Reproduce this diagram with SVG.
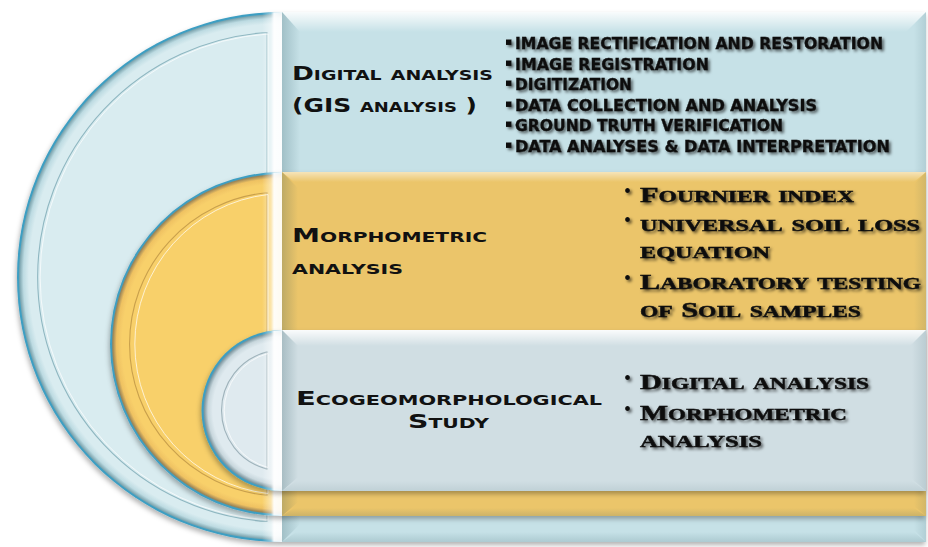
<svg xmlns="http://www.w3.org/2000/svg" width="928" height="547" viewBox="0 0 928 547">
  <style>
    .lbl{font-family:"DejaVu Sans","Liberation Sans",sans-serif;font-weight:bold;font-variant:small-caps;font-size:19.5px;fill:#111}
    .sm{font-family:"Liberation Sans Narrow","DejaVu Sans Condensed","Liberation Sans",sans-serif;font-weight:bold;font-size:16.5px;fill:#111;stroke:#111;stroke-width:0.35}
    .sq{font-family:"DejaVu Sans",sans-serif;font-size:11px;fill:#111}
    .ser{font-family:"Liberation Serif","DejaVu Serif",serif;font-weight:bold;font-variant:small-caps;font-size:24.5px;fill:#111;stroke:#111;stroke-width:0.5}
    .cap{font-size:22px}
    .dot{font-family:"Liberation Serif","DejaVu Serif",serif;font-size:20px;fill:#111}
    .groove-d{fill:none;stroke-width:1.1}
    .groove-l{fill:none;stroke:#ffffff;stroke-opacity:0.7;stroke-width:1}
  </style>
  <defs>
    <!-- rims of the three half-discs: fill colour fading into a dark bevel and a thin blue outline -->
    <radialGradient id="rimBlue" gradientUnits="userSpaceOnUse" cx="282" cy="277" r="265">
      <stop offset="0" stop-color="#d9ecf0"/>
      <stop offset="0.955" stop-color="#d9ecf0"/>
      <stop offset="0.976" stop-color="#bddbe2"/>
      <stop offset="0.99" stop-color="#7ea6b0"/>
      <stop offset="0.994" stop-color="#3d9ec2"/>
      <stop offset="1" stop-color="#3d9ec2"/>
    </radialGradient>
    <radialGradient id="rimYellow" gradientUnits="userSpaceOnUse" cx="282" cy="344" r="172">
      <stop offset="0" stop-color="#f8d06b"/>
      <stop offset="0.93" stop-color="#f8d06b"/>
      <stop offset="0.962" stop-color="#efc262"/>
      <stop offset="0.984" stop-color="#9c8557"/>
      <stop offset="0.991" stop-color="#3d9ec2"/>
      <stop offset="1" stop-color="#3d9ec2"/>
    </radialGradient>
    <radialGradient id="rimGrey" gradientUnits="userSpaceOnUse" cx="282" cy="410.5" r="80.5">
      <stop offset="0" stop-color="#dfeaef"/>
      <stop offset="0.86" stop-color="#dfeaef"/>
      <stop offset="0.92" stop-color="#c8d7dd"/>
      <stop offset="0.965" stop-color="#7f98a1"/>
      <stop offset="0.98" stop-color="#3d9ec2"/>
      <stop offset="1" stop-color="#3d9ec2"/>
    </radialGradient>
    <!-- bevel faces -->
    <linearGradient id="hiTop" x1="0" y1="0" x2="0" y2="1">
      <stop offset="0" stop-color="#ffffff" stop-opacity="0.9"/>
      <stop offset="1" stop-color="#ffffff" stop-opacity="0"/>
    </linearGradient>
    <linearGradient id="shLeft" x1="0" y1="0" x2="1" y2="0">
      <stop offset="0" stop-color="#1d4a55" stop-opacity="0.22"/>
      <stop offset="1" stop-color="#1d4a55" stop-opacity="0"/>
    </linearGradient>
    <linearGradient id="shRight" x1="0" y1="0" x2="1" y2="0">
      <stop offset="0" stop-color="#1d4a55" stop-opacity="0"/>
      <stop offset="1" stop-color="#1d4a55" stop-opacity="0.12"/>
    </linearGradient>
    <linearGradient id="shBottom" x1="0" y1="0" x2="0" y2="1">
      <stop offset="0" stop-color="#1d4a55" stop-opacity="0"/>
      <stop offset="1" stop-color="#1d4a55" stop-opacity="0.15"/>
    </linearGradient>
    <linearGradient id="edgeHi" x1="0" y1="0" x2="1" y2="0">
      <stop offset="0" stop-color="#ffffff" stop-opacity="0"/>
      <stop offset="0.45" stop-color="#ffffff" stop-opacity="0.45"/>
      <stop offset="0.6" stop-color="#ffffff" stop-opacity="0.95"/>
      <stop offset="1" stop-color="#ffffff" stop-opacity="0.9"/>
    </linearGradient>
    <clipPath id="cBlue"><path d="M282 12 A265 265 0 0 0 282 542 Z"/></clipPath>
    <clipPath id="cYellow"><path d="M282 172 A172 172 0 0 0 282 516 Z"/></clipPath>
    <clipPath id="cGrey"><path d="M282 330 A80.5 80.5 0 0 0 282 491 Z"/></clipPath>
    <filter id="drop" x="-5%" y="-5%" width="110%" height="115%">
      <feGaussianBlur in="SourceAlpha" stdDeviation="2.5"/>
      <feOffset dx="-1" dy="3" result="b"/>
      <feFlood flood-color="#000" flood-opacity="0.3"/>
      <feComposite in2="b" operator="in"/>
      <feMerge><feMergeNode/><feMergeNode in="SourceGraphic"/></feMerge>
    </filter>
    <filter id="ts" x="-5%" y="-30%" width="110%" height="170%">
      <feGaussianBlur in="SourceAlpha" stdDeviation="1.7"/>
      <feOffset dx="1.5" dy="2" result="b"/>
      <feFlood flood-color="#000" flood-opacity="0.6"/>
      <feComposite in2="b" operator="in"/>
      <feMerge><feMergeNode/><feMergeNode in="SourceGraphic"/></feMerge>
    </filter>
  </defs>

  <rect width="928" height="547" fill="#ffffff"/>

  <!-- outer level: digital analysis -->
  <g id="node-digital">
    <g filter="url(#drop)">
      <rect x="282" y="12" width="644" height="530" fill="#c6e1e7"/>
      <path d="M282 12 A265 265 0 0 0 282 542 Z" fill="url(#rimBlue)"/>
    </g>
    <polygon points="282,12 926,12 906,32 300,32" fill="url(#hiTop)"/>
    <polygon points="282,12 300,32 300,524 282,542" fill="url(#shLeft)"/>
    <polygon points="926,12 926,542 914,530 914,24" fill="url(#shRight)"/>
    <polygon points="282,542 926,542 914,532 296,532" fill="url(#shBottom)"/>
    <path class="groove-d" stroke="#8fb7c1" d="M267 32.5 A245 245 0 0 0 267 521.5 Z"/>
    <path class="groove-l" d="M268 34 A243.5 243.5 0 0 0 268 520 Z"/>
    <rect x="262" y="12" width="20" height="530" fill="url(#edgeHi)" clip-path="url(#cBlue)"/>
    <text class="lbl" x="292" y="80" textLength="201" lengthAdjust="spacingAndGlyphs">Digital analysis</text>
    <text class="lbl" x="292" y="112" textLength="185" lengthAdjust="spacingAndGlyphs">(GIS analysis )</text>
    <g filter="url(#ts)">
      <text class="sq" x="505" y="45">▪</text>
      <text class="sq" x="505" y="65.5">▪</text>
      <text class="sq" x="505" y="86">▪</text>
      <text class="sq" x="505" y="106.5">▪</text>
      <text class="sq" x="505" y="127">▪</text>
      <text class="sq" x="505" y="147.5">▪</text>
      <text class="sm" x="515" y="49" textLength="368" lengthAdjust="spacingAndGlyphs">IMAGE RECTIFICATION AND RESTORATION</text>
      <text class="sm" x="515" y="69.5" textLength="194" lengthAdjust="spacingAndGlyphs">IMAGE REGISTRATION</text>
      <text class="sm" x="515" y="90" textLength="117" lengthAdjust="spacingAndGlyphs">DIGITIZATION</text>
      <text class="sm" x="515" y="110.5" textLength="302" lengthAdjust="spacingAndGlyphs">DATA COLLECTION AND ANALYSIS</text>
      <text class="sm" x="515" y="131" textLength="268" lengthAdjust="spacingAndGlyphs">GROUND TRUTH VERIFICATION</text>
      <text class="sm" x="515" y="151.5" textLength="375" lengthAdjust="spacingAndGlyphs">DATA ANALYSES &amp; DATA INTERPRETATION</text>
    </g>
  </g>

  <!-- middle level: morphometric analysis -->
  <g id="node-morphometric">
    <g filter="url(#drop)">
      <rect x="282" y="172" width="644" height="344" fill="#ebc56a"/>
      <path d="M282 172 A172 172 0 0 0 282 516 Z" fill="url(#rimYellow)"/>
    </g>
    <polygon points="282,172 926,172 914,182 294,182" fill="url(#hiTop)" opacity="0.6"/>
    <polygon points="282,172 298,188 298,502 282,516" fill="url(#shLeft)"/>
    <polygon points="926,172 926,516 914,506 914,184" fill="url(#shRight)"/>
    <polygon points="282,516 926,516 914,508 294,508" fill="url(#shBottom)"/>
    <path class="groove-d" stroke="#c9a04c" d="M267 192.7 A152 152 0 0 0 267 495.3 Z"/>
    <path class="groove-l" d="M268 194.5 A150.5 150.5 0 0 0 268 493.5 Z" stroke-opacity="0.45"/>
    <rect x="262" y="172" width="20" height="344" fill="url(#edgeHi)" clip-path="url(#cYellow)"/>
    <text class="lbl" x="292" y="242" textLength="195" lengthAdjust="spacingAndGlyphs">Morphometric</text>
    <text class="lbl" x="292" y="274" textLength="111" lengthAdjust="spacingAndGlyphs">analysis</text>
    <g filter="url(#ts)">
      <text class="dot" x="624" y="198">•</text>
      <text class="dot" x="624" y="227">•</text>
      <text class="dot" x="624" y="285">•</text>
      <text class="ser" x="640" y="202" textLength="214" lengthAdjust="spacingAndGlyphs"><tspan class="cap">F</tspan>ournier index</text>
      <text class="ser" x="640" y="231" textLength="280" lengthAdjust="spacingAndGlyphs">universal  soil loss</text>
      <text class="ser" x="640" y="258" textLength="130" lengthAdjust="spacingAndGlyphs">equation</text>
      <text class="ser" x="640" y="289" textLength="281" lengthAdjust="spacingAndGlyphs"><tspan class="cap">L</tspan>aboratory testing</text>
      <text class="ser" x="640" y="316.5" textLength="221" lengthAdjust="spacingAndGlyphs">of <tspan class="cap">S</tspan>oil samples</text>
    </g>
  </g>

  <!-- inner level: ecogeomorphological study -->
  <g id="node-ecogeomorphological">
    <g filter="url(#drop)">
      <rect x="282" y="330" width="644" height="161" fill="#d0dee3"/>
      <path d="M282 330 A80.5 80.5 0 0 0 282 491 Z" fill="url(#rimGrey)"/>
    </g>
    <polygon points="282,330 926,330 910,346 298,346" fill="url(#hiTop)"/>
    <polygon points="282,330 298,346 298,477 282,491" fill="url(#shLeft)"/>
    <polygon points="926,330 926,491 912,479 912,344" fill="url(#shRight)"/>
    <polygon points="282,491 926,491 912,481 296,481" fill="url(#shBottom)" opacity="0.6"/>
    <path class="groove-d" stroke="#9fb3bb" d="M267 351.9 A60.5 60.5 0 0 0 267 469.1 Z"/>
    <path class="groove-l" d="M268 353.5 A59 59 0 0 0 268 467.5 Z"/>
    <rect x="262" y="330" width="20" height="161" fill="url(#edgeHi)" clip-path="url(#cGrey)"/>
    <text class="lbl" x="296" y="405" textLength="306" lengthAdjust="spacingAndGlyphs">Ecogeomorphological</text>
    <text class="lbl" x="408" y="428" textLength="81" lengthAdjust="spacingAndGlyphs">Study</text>
    <g filter="url(#ts)">
      <text class="dot" x="624" y="385">•</text>
      <text class="dot" x="624" y="416">•</text>
      <text class="ser" x="640" y="389" textLength="229" lengthAdjust="spacingAndGlyphs"><tspan class="cap">D</tspan>igital analysis</text>
      <text class="ser" x="640" y="420" textLength="207" lengthAdjust="spacingAndGlyphs"><tspan class="cap">M</tspan>orphometric</text>
      <text class="ser" x="640" y="446.5" textLength="122" lengthAdjust="spacingAndGlyphs">analysis</text>
    </g>
  </g>
</svg>
